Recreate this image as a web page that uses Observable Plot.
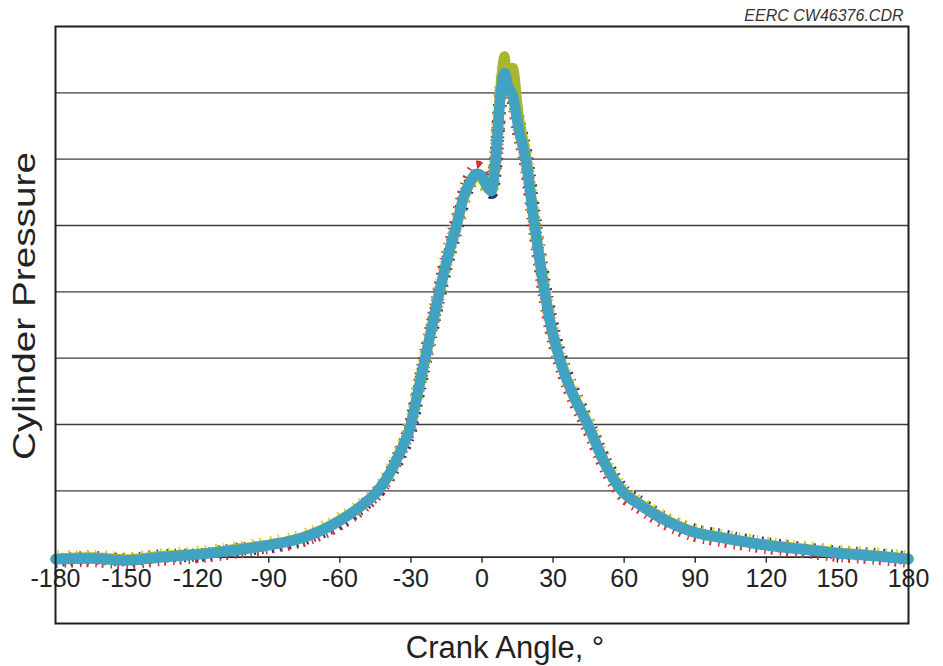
<!DOCTYPE html>
<html>
<head>
<meta charset="utf-8">
<script src="https://cdn.jsdelivr.net/npm/d3@7"></script>
<script src="https://cdn.jsdelivr.net/npm/@observablehq/plot@0.6"></script>
<style>
  html, body { margin: 0; padding: 0; background: #ffffff; }
  #chart { width: 943px; height: 666px; }
</style>
</head>
<body>
<div id="chart"></div>
<script>
// Crank angle samples (degrees) shared by every recorded cycle
const angles = [-180,-165,-150,-135,-120,-105,-90,-75,-60,-50,-44,-40,-35,-30,-27,-24,-21,-18,-15,-12,-10.8,-8,-5,-2,0,2,4,5.7,7.8,9.5,11,13,15.5,18.4,22.2,26.4,29,32,35,38,44.6,52,59,67,75,90,100,120,135,150,165,180];

// Cylinder pressure of each overlaid cycle (one grid division = 1)
const cycleRed    = [-0.06,-0.05,-0.08,-0.03,0.01,0.07,0.15,0.26,0.5,0.76,0.97,1.18,1.55,2.02,2.52,3.03,3.52,4.03,4.5,4.9,5.05,5.45,5.74,5.88,5.8,5.64,5.56,5.95,6.9,7.28,7.05,6.9,6.4,5.95,4.95,3.95,3.45,3.03,2.7,2.43,1.95,1.35,0.95,0.74,0.56,0.33,0.26,0.15,0.09,0.03,-0.01,-0.06];
const cycleNavy   = [-0.05,-0.01,-0.04,0.02,0.03,0.11,0.16,0.28,0.52,0.78,0.98,1.17,1.5,1.95,2.45,2.95,3.45,3.95,4.4,4.8,4.95,5.35,5.64,5.76,5.72,5.58,5.5,5.9,6.95,7.3,7.15,7.0,6.55,6.1,5.1,4.1,3.6,3.16,2.82,2.55,2.05,1.45,1.04,0.82,0.62,0.4,0.33,0.2,0.13,0.07,0.04,-0.02];
const cycleYellow = [0.0,0.01,-0.02,0.03,0.07,0.13,0.21,0.33,0.58,0.82,1.02,1.22,1.58,2.03,2.5,3.0,3.5,4.0,4.45,4.85,5.0,5.38,5.64,5.76,5.72,5.56,5.51,6.0,7.0,7.38,7.15,7.05,6.5,6.05,5.05,4.05,3.55,3.12,2.78,2.52,2.04,1.44,1.04,0.82,0.64,0.4,0.33,0.21,0.15,0.09,0.05,0.0];
const cycleGreen  = [-0.02,0.0,-0.03,0.02,0.05,0.12,0.19,0.31,0.56,0.8,1.0,1.2,1.55,2.0,2.48,2.98,3.48,3.98,4.43,4.83,4.98,5.38,5.64,5.76,5.72,5.58,5.52,6.05,7.1,7.55,7.05,7.38,6.65,6.1,5.05,4.05,3.53,3.1,2.76,2.49,2.02,1.42,1.02,0.8,0.62,0.38,0.31,0.19,0.13,0.07,0.03,-0.02];
const cycleCyan   = [-0.03,-0.02,-0.05,0.0,0.04,0.1,0.18,0.3,0.55,0.8,1.0,1.2,1.55,2.0,2.5,3.0,3.5,4.0,4.45,4.85,5.0,5.4,5.66,5.78,5.74,5.6,5.52,5.95,6.95,7.3,7.1,6.95,6.45,6.0,5.0,4.0,3.5,3.08,2.75,2.48,2.0,1.4,1.0,0.78,0.6,0.37,0.3,0.18,0.12,0.06,0.02,-0.03];

// Axis ticks and horizontal grid levels
const xTicks = [-180,-150,-120,-90,-60,-30,0,30,60,90,120,150,180];
const gridLevels = [1,2,3,4,5,6,7];

const toPoints = (values) => values.map((p, i) => ({angle: angles[i], p}));

const font = "'Liberation Sans', Arial, Helvetica, sans-serif";

// Short dashes on slightly wider layers leave coloured specks along the band edges
const speckled = (values, color, dashes, offset) =>
  Plot.line(toPoints(values), {
    x: "angle", y: "p", stroke: color, strokeWidth: 13.5, curve: "monotone-x",
    strokeLinecap: "butt", strokeLinejoin: "round",
    strokeDasharray: dashes, strokeDashoffset: offset
  });

const chart = Plot.plot({
  width: 943,
  height: 666,
  marginLeft: 55,
  marginRight: 35,
  marginTop: 26,
  marginBottom: 43,
  style: {fontFamily: font, background: "#ffffff", color: "#222"},
  x: {domain: [-180, 180], axis: null},
  y: {domain: [-1, 8], axis: null},
  marks: [
    Plot.ruleY(gridLevels, {stroke: "#3c3c3c", strokeWidth: 1.4}),
    Plot.ruleY([0], {stroke: "#2a2a2a", strokeWidth: 1.6}),
    Plot.ruleX(xTicks, {x: d => d, y1: 0, y2: 0, insetBottom: -6, stroke: "#2a2a2a", strokeWidth: 1.4}),
    Plot.text(xTicks, {x: d => d, y: 0, text: d => String(d), dy: 30, lineAnchor: "bottom", fontSize: 25, fill: "#222"}),

    speckled(cycleRed, "#d6322a", "2 7 1.5 5", 0),
    speckled(cycleNavy, "#2c3585", "1.5 8 2 6", 3),
    speckled(cycleYellow, "#e3d226", "2 6 1.5 9", 6),
    Plot.line(toPoints(cycleGreen), {x: "angle", y: "p", stroke: "#a7b62e", strokeWidth: 10, curve: "monotone-x", strokeLinejoin: "round", strokeLinecap: "round"}),
    Plot.line(toPoints(cycleCyan), {x: "angle", y: "p", stroke: "#41a2c2", strokeWidth: 10.5, curve: "monotone-x", strokeLinejoin: "round", strokeLinecap: "round"}),

    Plot.frame({stroke: "#1e1e1e", strokeWidth: 2}),

    Plot.text(["Crank Angle, °"], {frameAnchor: "bottom", dx: 23, dy: 34, lineAnchor: "bottom", fontSize: 31, fill: "#222"}),
    Plot.text(["Cylinder Pressure"], {frameAnchor: "left", rotate: -90, textAnchor: "middle", lineAnchor: "middle", dx: -30, dy: -19, fontSize: 31, fill: "#222", className: "ylabel"}),
    Plot.text(["EERC CW46376.CDR"], {frameAnchor: "top-right", dx: -5, dy: -6, lineAnchor: "bottom", textAnchor: "end", fontSize: 16, fontStyle: "italic", fill: "#333"})
  ]
});

// The vertical title runs the full height of the grid
d3.select(chart).selectAll(".ylabel text")
  .attr("textLength", 308)
  .attr("lengthAdjust", "spacingAndGlyphs");

document.getElementById("chart").appendChild(chart);
</script>
</body>
</html>
